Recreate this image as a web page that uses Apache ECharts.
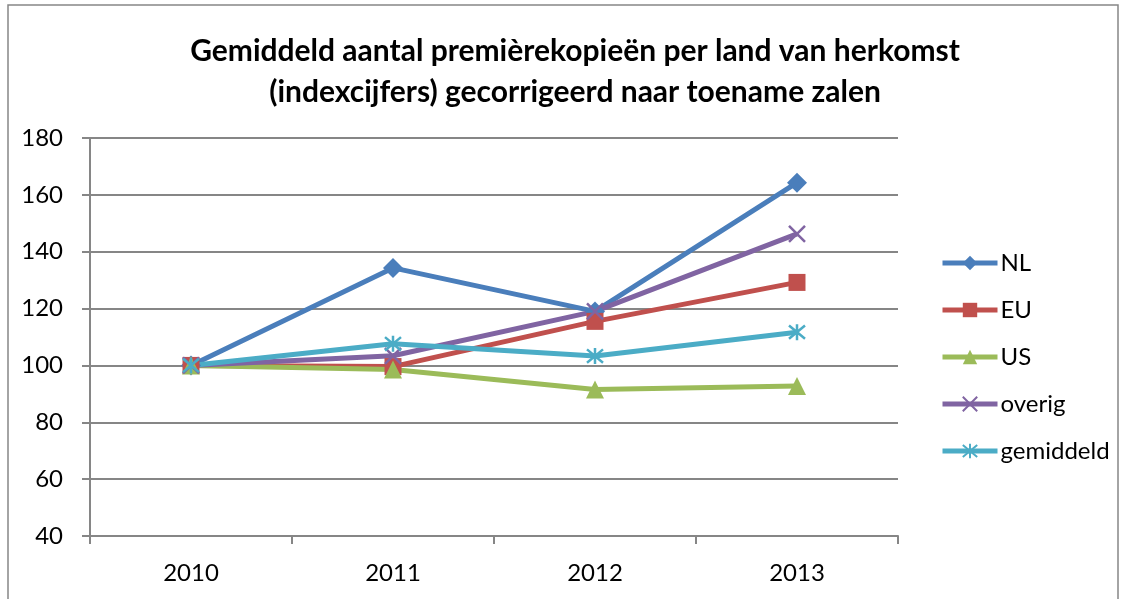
<!DOCTYPE html>
<html>
<head lang="nl">
    <meta charset="UTF-8">
    <title>Premièrekopieën</title>
    <style>
        html, body {margin:0; padding:0; background:#fff;}
        #main {width:1130px; height:599px;}
    </style>
</head>
<body>
<div id="main"></div>

<script src="https://cdn.jsdelivr.net/npm/echarts@6/dist/echarts.min.js"></script>
<script>
    var years = ['2010', '2011', '2012', '2013'];
    var nl = [100, 134.3, 119, 164.3];
    var eu = [100, 99.6, 115.5, 129.2];
    var us = [100, 98.6, 91.5, 92.8];
    var overig = [100, 103.4, 119, 146.3];
    var gemiddeld = [100, 107.6, 103.3, 111.7];

    var font = 'Lato, "Open Sans", sans-serif';
    var crossPath = 'path://M0,0L10,10M10,0L0,10';
    var starPath = 'path://M0,0L10,10M10,0L0,10M5,-1L5,11';

    function lineSeries(name, data, color, symbol, size, stroke) {
        var s = {
            name: name,
            type: 'line',
            data: data,
            symbol: symbol,
            symbolSize: size,
            lineStyle: {color: color, width: 5},
            itemStyle: {color: color},
            z: 3
        };
        if (stroke) {
            s.itemStyle = {color: 'rgba(0,0,0,0)', borderColor: color, borderWidth: 2.5};
        }
        return s;
    }

    var myChart = echarts.init(document.getElementById('main'));
    var option = {
        backgroundColor: '#fff',
        animation: false,
        color: ['#4A7EBB', '#C0504D', '#9BBB59', '#8064A2', '#4BACC6'],
        title: {
            text: 'Gemiddeld aantal premièrekopieën per land van herkomst\n(indexcijfers) gecorrigeerd naar toename zalen',
            left: 570,
            textAlign: 'center',
            top: 26,
            textStyle: {
                fontFamily: font,
                fontSize: 30,
                fontWeight: 'bold',
                color: '#000',
                lineHeight: 41
            }
        },
        legend: {
            orient: 'vertical',
            left: 935,
            top: 246,
            itemWidth: 55,
            itemHeight: 18,
            itemGap: 23,
            lineStyle: {width: 5},
            data: ['NL', 'EU', 'US', 'overig', 'gemiddeld'],
            textStyle: {fontFamily: font, fontSize: 24, color: '#000', lineHeight: 18, padding: [0, 0, 0, -2]}
        },
        grid: {
            left: 90,
            right: 232,
            top: 138,
            bottom: 63
        },
        xAxis: {
            type: 'category',
            data: years,
            boundaryGap: true,
            axisLine: {lineStyle: {color: '#868686', width: 2}},
            axisTick: {show: true, length: 8, lineStyle: {color: '#868686', width: 2}},
            axisLabel: {fontFamily: font, fontSize: 24, color: '#000', margin: 25}
        },
        yAxis: {
            type: 'value',
            min: 40,
            max: 180,
            interval: 20,
            axisLine: {show: true, lineStyle: {color: '#868686', width: 2}},
            axisTick: {show: true, length: 8, lineStyle: {color: '#868686', width: 2}},
            splitLine: {lineStyle: {color: '#868686', width: 2}},
            axisLabel: {fontFamily: font, fontSize: 24, color: '#000', margin: 27}
        },
        graphic: [{
            type: 'rect',
            shape: {x: 8, y: 5, width: 1110, height: 620},
            style: {fill: 'none', stroke: '#868686', lineWidth: 1.5},
            silent: true
        }],
        series: [
            lineSeries('NL', nl, '#4A7EBB', 'diamond', 20),
            lineSeries('EU', eu, '#C0504D', 'rect', 17),
            lineSeries('US', us, '#9BBB59', 'triangle', 18),
            lineSeries('overig', overig, '#8064A2', crossPath, 16, true),
            lineSeries('gemiddeld', gemiddeld, '#4BACC6', starPath, 16, true)
        ]
    };
    myChart.setOption(option);
</script>
</body>
</html>
